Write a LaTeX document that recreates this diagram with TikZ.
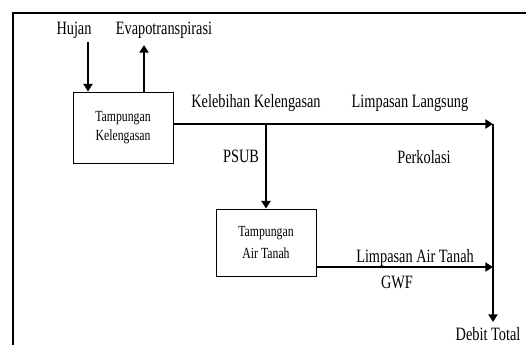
\documentclass[tikz,border=0pt]{standalone}
\usepackage{fontspec}
\setmainfont[FakeStretch=0.76]{Liberation Serif}
\usetikzlibrary{arrows.meta}

\begin{document}
\begin{tikzpicture}[x=0.025cm, y=-0.025cm,
		>={Triangle[length=5.5pt, width=6.5pt]},
		flow/.style={line width=1.5pt},
		label/.style={font=\fontsize{13.4}{16}\selectfont, inner sep=1pt},
		store/.style={draw, line width=0.6pt, align=center, minimum width=2.5cm, font=\fontsize{11}{13}\selectfont}]

				\useasboundingbox (0,0) rectangle (526,345);
				\draw [line width=1pt] (526,13) -- (13,13) -- (13,345);

				\node [label] (hujan) at (74,30) {Hujan};
				\node [label] (evapo) at (164,30) {Evapotranspirasi};

				\node [store, minimum height=1.775cm] (tampKel) at (123,127.5) {Tampungan\\Kelengasan};
				\node [store, minimum height=1.675cm] (tampAir) at (266,242.5) {Tampungan\\[2pt]Air Tanah};

				\node [label] (kelebihan) at (256,103) {Kelebihan Kelengasan};
				\node [label] (langsung) at (410,103) {Limpasan Langsung};
				\node [label] (psub) at (241,156) {PSUB};
				\node [label] (perkolasi) at (424,157) {Perkolasi};
				\node [label] (airTanah) at (415,258) {Limpasan Air Tanah};
				\node [label] (gwf) at (397,282) {GWF};
				\node [label, inner sep=3.3pt, anchor=north] (debit) at (488,322) {Debit Total};

				\coordinate (hujanTop) at (88,42);
				\coordinate (evapoTop) at (144,45);
				\coordinate (outlet) at (493,124);
				\coordinate (gwfEnd) at (493,267);

				\draw [->,flow] (hujanTop) -- (hujanTop |- tampKel.north);
				\draw [<-,flow] (evapoTop) -- (evapoTop |- tampKel.north);
				\draw [->,flow] (tampKel.east |- outlet) -- (outlet);
				\draw [->,flow] (tampAir.north |- outlet) -- (tampAir.north);
				\draw [->,flow] (tampAir.east |- gwfEnd) -- (gwfEnd);
				\draw [->,flow] (outlet) -- (outlet |- debit.north);
		\end{tikzpicture}
\end{document}
